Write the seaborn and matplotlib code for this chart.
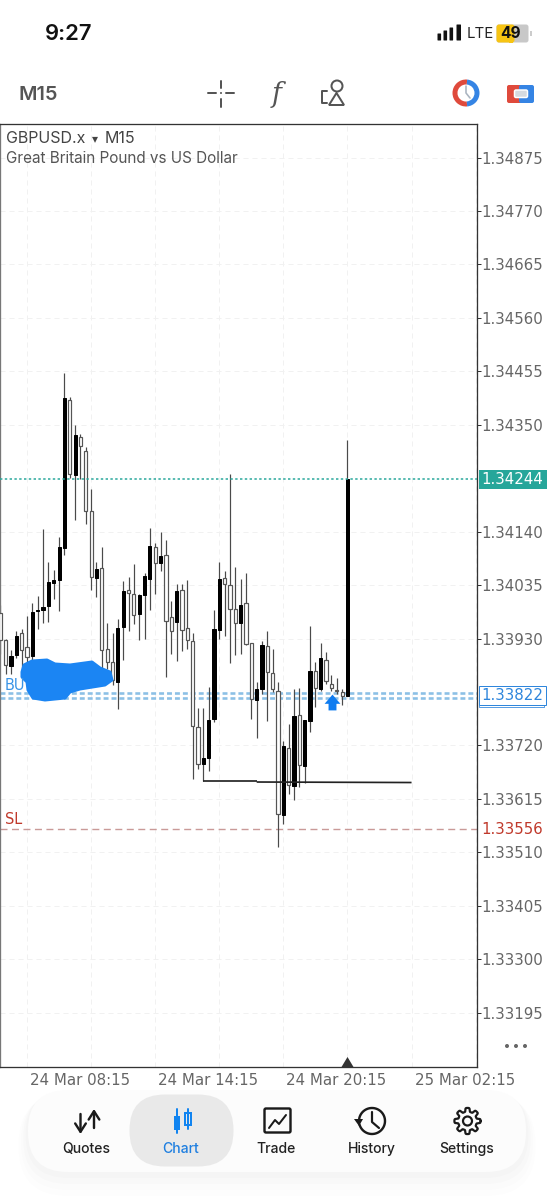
import numpy as np
import pandas as pd
import matplotlib
matplotlib.use("Agg")
import matplotlib.pyplot as plt
import seaborn as sns
from matplotlib.patches import FancyBboxPatch, Circle, Rectangle, Wedge, Polygon
from matplotlib.transforms import ScaledTranslation

# -----------------------------
# Data
# -----------------------------
opens = [1.33981, 1.33928, 1.33876, 1.33898, 1.33940, 1.33914, 1.33895, 1.33984, 1.33986, 1.33994, 1.34039,
         1.34045, 1.34107, 1.34398, 1.34251, 1.34326, 1.34299, 1.34181, 1.34049, 1.34068, 1.33909, 1.33883,
         1.33845, 1.33952, 1.34025, 1.34017, 1.33978, 1.34015, 1.34046, 1.34110, 1.34079, 1.34095, 1.33973,
         1.33963, 1.34025, 1.33950, 1.33926, 1.33757, 1.33683, 1.33695, 1.33771, 1.33947, 1.34048, 1.34036,
         1.33987, 1.33960, 1.34000, 1.33921, 1.33809, 1.33830, 1.33916, 1.33863, 1.33827, 1.33583, 1.33715,
         1.33641, 1.33779, 1.33679, 1.33768, 1.33866, 1.33831, 1.33887, 1.33841, 1.33829, 1.33824, 1.33817]
closes = [1.33928, 1.33878, 1.33896, 1.33935, 1.33907, 1.33894, 1.33983, 1.33986, 1.33992, 1.34041, 1.34045,
          1.34110, 1.34403, 1.34254, 1.34329, 1.34309, 1.34181, 1.34050, 1.34066, 1.33907, 1.33884, 1.33848,
          1.33950, 1.34024, 1.34020, 1.33976, 1.34016, 1.34053, 1.34112, 1.34079, 1.34093, 1.33965, 1.33945,
          1.34024, 1.33947, 1.33928, 1.33758, 1.33684, 1.33696, 1.33770, 1.33948, 1.34046, 1.34038, 1.33987,
          1.33961, 1.33996, 1.33920, 1.33812, 1.33831, 1.33918, 1.33865, 1.33830, 1.33585, 1.33719, 1.33643,
          1.33778, 1.33681, 1.33769, 1.33867, 1.33833, 1.33892, 1.33846, 1.33832, 1.33826, 1.33817, 1.34244]
highs = [1.33995, 1.33930, 1.33908, 1.33945, 1.33948, 1.33974, 1.33999, 1.34013, 1.34146, 1.34081, 1.34064,
         1.34129, 1.34451, 1.34405, 1.34349, 1.34332, 1.34307, 1.34223, 1.34081, 1.34110, 1.33960, 1.33940,
         1.33969, 1.34043, 1.34051, 1.34076, 1.34018, 1.34059, 1.34148, 1.34117, 1.34139, 1.34123, 1.34004,
         1.34037, 1.34038, 1.34045, 1.33940, 1.33794, 1.33794, 1.33835, 1.33986, 1.34080, 1.34063, 1.34254,
         1.34071, 1.34046, 1.34059, 1.33922, 1.33845, 1.33926, 1.33944, 1.33909, 1.33845, 1.33728, 1.33762,
         1.33830, 1.33833, 1.33769, 1.33955, 1.33884, 1.33922, 1.33904, 1.33858, 1.33853, 1.33830, 1.34321]
lows = [1.33900, 1.33861, 1.33861, 1.33892, 1.33865, 1.33868, 1.33887, 1.33949, 1.33960, 1.33963, 1.34007,
        1.33985, 1.34094, 1.34246, 1.34163, 1.34244, 1.34155, 1.34026, 1.34011, 1.33871, 1.33871, 1.33838,
        1.33791, 1.33887, 1.33945, 1.33958, 1.33928, 1.33929, 1.33986, 1.34017, 1.34063, 1.33855, 1.33899,
        1.33886, 1.33905, 1.33909, 1.33653, 1.33673, 1.33650, 1.33670, 1.33766, 1.33930, 1.33934, 1.33882,
        1.33897, 1.33900, 1.33917, 1.33771, 1.33735, 1.33820, 1.33768, 1.33824, 1.33520, 1.33565, 1.33624,
        1.33613, 1.33639, 1.33647, 1.33746, 1.33796, 1.33827, 1.33840, 1.33827, 1.33820, 1.33799, 1.33817]

price_ticks = [1.34875, 1.34770, 1.34665, 1.34560, 1.34455, 1.34350, 1.34140, 1.34035, 1.33930, 1.33720,
               1.33615, 1.33510, 1.33405, 1.33300, 1.33195]
grid_bars = [5, 17, 29, 41, 53, 65, 77, 89]
time_ticks = [5, 29, 53, 77]
time_labels = ["24 Mar 08:15", "24 Mar 14:15", "24 Mar 20:15", "25 Mar 02:15"]

last_price = 1.34244
buy_levels = [1.33822, 1.33814]
sl_price = 1.33556
trend_bars = [[38, 48], [48, 77]]
trend_prices = [[1.33650, 1.33650], [1.33648, 1.33647]]
arrow_bar, arrow_price = 62.15, 1.33806

nav_labels = ["Quotes", "Chart", "Trade", "History", "Settings"]
nav_x = [86, 181, 276, 372, 467]

scribble_x = [22, 24, 32, 47, 55, 70, 92, 100, 110, 112, 105, 80, 70, 65, 45, 33, 28, 27, 22]
scribble_y = [672, 665, 661, 660, 664, 665, 662, 668, 672, 680, 685, 689, 692, 698, 700, 698, 690, 682, 677]

# -----------------------------
# Style
# -----------------------------
sns.set_theme(style="white")
plt.rcParams["font.family"] = ["Inter", "Liberation Sans", "DejaVu Sans"]

W, H = 554, 1200
fig = plt.figure(figsize=(W / 100, H / 100), dpi=100, facecolor="white")

GREY = "#666666"
TEAL = "#26a69a"
BLUE = "#2f86dc"
RED = "#c0392b"
NAVY = "#333333"
MONO = "DejaVu Sans"

def px(size):
    return size * 0.72

# -----------------------------
# Chart axes
# -----------------------------
ax = fig.add_axes([0, (H - 1067) / H, 477 / W, (1067 - 124) / H])

candles = pd.DataFrame({"o": opens, "h": highs, "l": lows, "c": closes})
candles["bar"] = np.arange(len(candles))
candles["base"] = candles[["o", "c"]].min(axis=1)
candles["size"] = (candles["c"] - candles["o"]).abs()
up = candles[candles["c"] >= candles["o"]]
down = candles[candles["c"] < candles["o"]]

for b in grid_bars:
    ax.axvline(b, color="#f1f1f1", lw=px(1), ls=(0, (5, 4)), zorder=0)
for p in price_ticks:
    ax.axhline(p, color="#f1f1f1", lw=px(1), ls=(0, (5, 4)), zorder=0)

ax.vlines(candles["bar"], candles["l"], candles["h"], color="#4a4a4a", lw=px(1.2), zorder=2)

sns.barplot(data=down, x="bar", y="size", bottom=down["base"].values, native_scale=True, color="white",
            saturation=1, width=0.6, edgecolor="#555555", linewidth=px(1.2), errorbar=None, zorder=3, ax=ax)
sns.barplot(data=up, x="bar", y="size", bottom=up["base"].values, native_scale=True, color="black",
            saturation=1, width=0.6, edgecolor="black", linewidth=px(1), errorbar=None, zorder=3, ax=ax)

ax.axhline(last_price, color=TEAL, lw=px(1.5), ls=(0, (1.6, 1.6)), zorder=4)
for lvl in buy_levels:
    ax.axhline(lvl, color="#8cc0e6", lw=px(2.6), ls=(0, (1.9, 1.15)), zorder=1)
ax.axhline(sl_price, color="#c99a98", lw=px(1.4), ls=(0, (5, 3.2)), zorder=1)

for xs, ys in zip(trend_bars, trend_prices):
    ax.plot(xs, ys, color="#222222", lw=px(1.7), zorder=4, solid_capstyle="butt")

arrow_shape = [(-6, -1), (0, 6), (6, -1), (3, -1), (3, -6), (-3, -6), (-3, -1)]
ax.scatter([arrow_bar], [arrow_price], marker=arrow_shape, s=130, color="#0f7cf0", linewidths=0, zorder=5)

ax.set_xlim(-0.07, 89.26)
ax.set_ylim(1.33088, 1.34941)
ax.set_xlabel("")
ax.set_ylabel("")
ax.yaxis.tick_right()
ax.set_yticks(price_ticks)
ax.set_yticklabels([f"{p:.5f}" for p in price_ticks], family=MONO)
ax.set_xticks(time_ticks)
ax.set_xticklabels(time_labels, ha="left", family=MONO)
ax.tick_params(axis="y", length=3, width=px(1), color=NAVY, pad=0, labelsize=px(15), labelcolor=GREY)
ax.tick_params(axis="x", length=4, width=px(1.2), color=NAVY, pad=0, labelsize=px(15), labelcolor=GREY)
shift = ScaledTranslation(3 / 100, 0, fig.dpi_scale_trans)
for lab in ax.get_xticklabels():
    lab.set_transform(lab.get_transform() + shift)
for s in ax.spines.values():
    s.set_color(NAVY)
    s.set_linewidth(px(1.3))
ax.spines["left"].set_color("#777777")

# -----------------------------
# Screen furniture, in screen pixels
# -----------------------------
ui = fig.add_axes([0, 0, 1, 1], facecolor="none")
ui.set_xlim(0, W)
ui.set_ylim(H, 0)
ui.axis("off")

def label(x, y, s, size, color="#333333", ha="left", weight="normal", **kw):
    return ui.text(x, y, s, fontsize=px(size), color=color, ha=ha, va="center", fontweight=weight, **kw)

# top bars
label(69, 34, "9:27", 22, "#111111", "center", "semibold")
for x, h in zip([438, 444, 450, 457], [6, 9, 12, 15]):
    ui.add_patch(FancyBboxPatch((x, 40 - h), 2.6 if x < 457 else 3.5, h, boxstyle="round,pad=0.5", fc="#111111", ec="none"))
label(467, 34, "LTE", 15, "#222222", stretch="condensed")
ui.add_patch(FancyBboxPatch((499, 27), 27, 13, boxstyle="round,pad=2.5", fc="#c8c8c8", ec="none"))
ui.add_patch(FancyBboxPatch((499, 27), 13, 13, boxstyle="round,pad=2.5", fc="#f7c413", ec="none"))
ui.add_patch(Rectangle((509, 24.5), 4, 18, fc="#f7c413", ec="none"))
label(511, 34, "49", 15.5, "#111111", "center", "bold")
ui.add_patch(Rectangle((530, 31), 1.5, 5, fc="#cccccc", ec="none"))

label(18, 95, "M15", 20, "#555555", weight="semibold", stretch="condensed")
ic = "#555555"
for xs, ys in [([208, 216], [93, 93]), ([226, 234], [93, 93]), ([221, 221], [81, 88]), ([221, 221], [99, 107])]:
    ui.plot(xs, ys, color=ic, lw=px(2))
ui.add_patch(Circle((221, 93), 1, fc=ic, ec="none"))
ui.text(277, 94, "f", fontsize=px(27), color=ic, ha="center", va="center", style="italic", family="DejaVu Serif")
ui.add_patch(Circle((337, 86), 5.5, fc="none", ec=ic, lw=px(2)))
ui.add_patch(Polygon([(329, 105), (344, 105), (336.5, 93)], closed=True, fc="none", ec=ic, lw=px(2)))
ui.plot([327, 322, 322, 327], [91, 91, 103, 103], color=ic, lw=px(2))

ui.add_patch(Wedge((466, 93), 13.5, 85, 275, width=5, fc="#df4a3c", ec="none"))
ui.add_patch(Wedge((466, 93), 13.5, -85, 85, width=5, fc="#3584e4", ec="none"))
ui.plot([466, 466, 470], [86, 93, 98], color="#aab4c0", lw=px(1.6))
ui.add_patch(FancyBboxPatch((509, 87), 11, 14, boxstyle="round,pad=2", fc="#df4a3c", ec="none"))
ui.add_patch(FancyBboxPatch((521, 87), 11, 14, boxstyle="round,pad=2", fc="#3584e4", ec="none"))
ui.add_patch(FancyBboxPatch((516, 91.5), 10, 4.5, boxstyle="round,pad=1.5", fc="#d5dae0", ec="white", lw=px(1.5)))

# chart overlays
label(6, 138.5, "GBPUSD.x", 16, "#444444")
ui.text(95, 139, "▾", fontsize=px(12), color="#444444", ha="center", va="center", family="DejaVu Sans")
label(105, 138.5, "M15", 16, "#444444")
label(6, 158.5, "Great Britain Pound vs US Dollar", 15.3, "#555555")
ui.fill(scribble_x, scribble_y, color="#1b85f3", lw=px(3), joinstyle="round")
label(5, 686, "BU", 14.5, "#3a94e6", family=MONO)
label(5, 820, "SL", 14.5, RED, family=MONO)
ui.add_patch(Polygon([(341.5, 1067), (347.5, 1057), (353.5, 1067)], closed=True, fc="#333333", ec="none"))
for x in [507, 516, 525]:
    ui.add_patch(Circle((x, 1046), 2, fc="#666666", ec="none"))

# price badges
ui.add_patch(Rectangle((479, 470), 68, 19, fc=TEAL, ec="none"))
label(481.5, 479.5, "1.34244", 15, "white", family=MONO)
ui.add_patch(Rectangle((479, 688), 65, 19, fc="white", ec=BLUE, lw=px(0.8)))
ui.add_patch(Rectangle((479, 686), 67, 19, fc="white", ec=BLUE, lw=px(1)))
label(481.5, 695, "1.33822", 15, BLUE, family=MONO)
label(481.5, 829.5, "1.33556", 15, RED, family=MONO)

# bottom navigation, the shadow sits under the pill only
for grow, a in zip([24, 18, 12, 6], [0.006, 0.008, 0.010, 0.012]):
    ui.add_patch(FancyBboxPatch((68, 1130 + grow * 0.6), 418, 2, boxstyle=f"round,pad={40 + grow * 0.4}",
                                fc="#000000", ec="none", alpha=a))
ui.add_patch(FancyBboxPatch((68, 1130), 418, 2, boxstyle="round,pad=40", fc="#fcfcfc", ec="none"))
ui.add_patch(FancyBboxPatch((165, 1130), 33, 1, boxstyle="round,pad=35.5", fc="#e9e9e9", ec="none"))
for x, s in zip(nav_x, nav_labels):
    label(x, 1149, s, 14, "#1f7fe0" if s == "Chart" else "#222222", "center", "medium")

dark = "#1a1a1a"
arrow_kw = dict(arrowstyle="->,head_width=0.32,head_length=0.5", color=dark, lw=px(2.4), shrinkA=0, shrinkB=0)
ui.annotate("", xy=(80.5, 1134), xytext=(80.5, 1114), arrowprops=arrow_kw)
ui.annotate("", xy=(94, 1109), xytext=(94, 1128), arrowprops=arrow_kw)

cb = "#1184f0"
ui.plot([176.7, 176.7], [1109, 1133], color=cb, lw=px(2))
ui.add_patch(Rectangle((173.5, 1116), 6.5, 14, fc=cb, ec="none"))
ui.plot([187.6, 187.6], [1109, 1129], color=cb, lw=px(2))
ui.add_patch(Rectangle((184.5, 1113), 6, 12, fc="#e9e9e9", ec=cb, lw=px(2)))

ui.add_patch(FancyBboxPatch((266, 1110), 23, 21, boxstyle="round,pad=1.5", fc="none", ec=dark, lw=px(2.4)))
ui.plot([269, 275, 279, 286], [1128, 1120, 1124, 1115], color=dark, lw=px(2))

t = np.radians(np.linspace(-170, 165, 60))
ui.plot(372 + 13 * np.cos(t), 1121 + 13 * np.sin(t), color=dark, lw=px(2.4))
ui.plot([372, 372, 379], [1112, 1122, 1128], color=dark, lw=px(2.2))
ui.add_patch(Polygon([(354, 1119), (363, 1119), (359, 1126)], closed=True, fc=dark, ec="none"))

a = np.radians(np.linspace(0, 360, 193))
r = 11.2 + 1.9 * np.tanh(3 * np.cos(8 * a))
ui.plot(467.5 + r * np.cos(a), 1121 + r * np.sin(a), color=dark, lw=px(2.2))
ui.add_patch(Circle((467.5, 1121), 4.5, fc="none", ec=dark, lw=px(2.2)))

fig.savefig("out.png", dpi=100)
